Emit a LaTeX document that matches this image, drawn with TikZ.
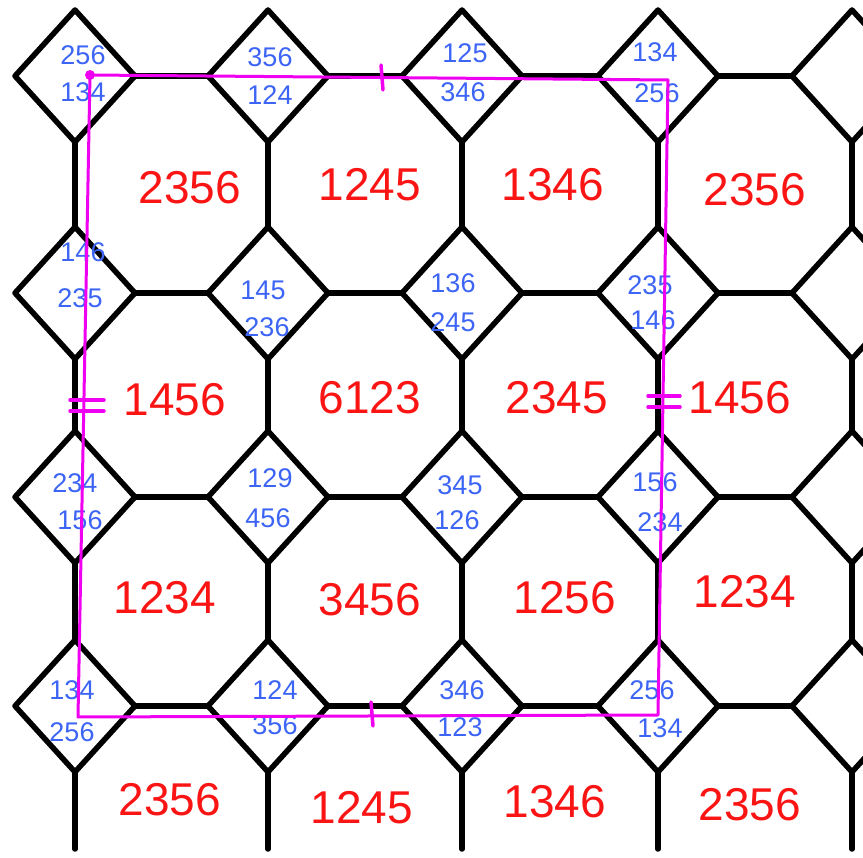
\documentclass[tikz,border=0pt]{standalone}
\usepackage{fontspec}
\setmainfont{Liberation Sans}
\usetikzlibrary{calc}
\definecolor{hred}{RGB}{250,20,20}
\definecolor{hblue}{RGB}{60,100,245}
\definecolor{hmag}{RGB}{240,0,240}
\begin{document}
\begin{tikzpicture}[x=1pt,y=-1pt,
  tile/.style={line width=5.5pt,line cap=round,line join=round,black},
  big/.style={text=hred,font=\fontsize{46}{46}\selectfont,inner sep=0pt},
  small/.style={text=hblue,font=\fontsize{27}{27}\selectfont,inner sep=0pt},
  mag/.style={draw=hmag,line width=3pt,line cap=round,line join=round}]
\useasboundingbox (0,0) rectangle (863,858);
\foreach \x [count=\i] in {75,268,462,658,852} {
  \foreach \y [count=\j] in {76,293,497,706,915} {
    \coordinate (d\i-\j) at (\x,\y);
  }
}
\begin{scope}
\clip (0,0) rectangle (863,858);
% diamonds
\foreach \i in {1,...,5} {
  \foreach \j in {1,...,4} {
    \draw[tile,shift={(d\i-\j)}] (-60,0) -- (0,-66) -- (60,0) -- (0,66) -- cycle;
  }
}
% horizontal octagon edges
\foreach \i [evaluate=\i as \k using int(\i+1)] in {1,...,4} {
  \foreach \j in {1,...,4} {
    \draw[tile] ($(d\i-\j)+(60,0)$) -- ($(d\k-\j)+(-60,0)$);
  }
}
% vertical octagon edges
\foreach \i in {1,...,5} {
  \foreach \j [evaluate=\j as \m using int(\j+1)] in {1,...,4} {
    \draw[tile] ($(d\i-\j)+(0,66)$) -- ($(d\i-\m)+(0,-66)$);
  }
}
\end{scope}
% octagon labels
\node[big] (o11) at (190,188) {2356};
\node[big] (o12) at (370,185) {1245};
\node[big] (o13) at (553,185) {1346};
\node[big] (o14) at (755,190) {2356};
\node[big] (o21) at (175,400) {1456};
\node[big] (o22) at (370,398) {6123};
\node[big] (o23) at (557,398) {2345};
\node[big] (o24) at (740,398) {1456};
\node[big] (o31) at (165,598) {1234};
\node[big] (o32) at (370,600) {3456};
\node[big] (o33) at (565,598) {1256};
\node[big] (o34) at (745,592) {1234};
\node[big] (o41) at (170,800) {2356};
\node[big] (o42) at (362,808) {1245};
\node[big] (o43) at (555,802) {1346};
\node[big] (o44) at (750,805) {2356};
% diamond labels
\node[small] (a11) at (83,55) {256};   \node[small] (b11) at (83,92) {134};
\node[small] (a12) at (270,57) {356};  \node[small] (b12) at (270,95) {124};
\node[small] (a13) at (465,53) {125};  \node[small] (b13) at (463,92) {346};
\node[small] (a14) at (655,52) {134};  \node[small] (b14) at (657,93) {256};
\node[small] (a21) at (83,252) {146};  \node[small] (b21) at (80,298) {235};
\node[small] (a22) at (263,290) {145}; \node[small] (b22) at (267,327) {236};
\node[small] (a23) at (453,283) {136}; \node[small] (b23) at (453,322) {245};
\node[small] (a24) at (650,285) {235}; \node[small] (b24) at (653,320) {146};
\node[small] (a31) at (75,483) {234};  \node[small] (b31) at (80,520) {156};
\node[small] (a32) at (270,478) {129}; \node[small] (b32) at (268,518) {456};
\node[small] (a33) at (460,485) {345}; \node[small] (b33) at (457,520) {126};
\node[small] (a34) at (655,482) {156}; \node[small] (b34) at (660,522) {234};
\node[small] (a41) at (72,690) {134};  \node[small] (b41) at (72,732) {256};
\node[small] (a42) at (275,690) {124}; \node[small] (b42) at (275,725) {356};
\node[small] (a43) at (462,690) {346}; \node[small] (b43) at (460,727) {123};
\node[small] (a44) at (652,690) {256}; \node[small] (b44) at (660,728) {134};
% magenta square
\coordinate (m1) at (90,75);
\coordinate (m2) at (668,80);
\coordinate (m3) at (658,715);
\coordinate (m4) at (78,717);
\draw[mag] (m1) -- (m2) -- (m3) -- (m4) -- cycle;
\fill[hmag] (m1) circle (5);
% tick marks
\coordinate (t1a) at (381,65);  \coordinate (t1b) at (383,90);
\draw[mag,line width=3.5pt] (t1a) -- (t1b);
\coordinate (t2a) at (371,702); \coordinate (t2b) at (373,726);
\draw[mag,line width=3.5pt] (t2a) -- (t2b);
\coordinate (t3a) at (70,400);  \coordinate (t3b) at (104,400);
\coordinate (t4a) at (70,411);  \coordinate (t4b) at (104,411);
\draw[mag,line width=3.5pt] (t3a) -- (t3b) (t4a) -- (t4b);
\coordinate (t5a) at (648,396); \coordinate (t5b) at (680,396);
\coordinate (t6a) at (648,407); \coordinate (t6b) at (680,407);
\draw[mag,line width=3.5pt] (t5a) -- (t5b) (t6a) -- (t6b);
\end{tikzpicture}
\end{document}
